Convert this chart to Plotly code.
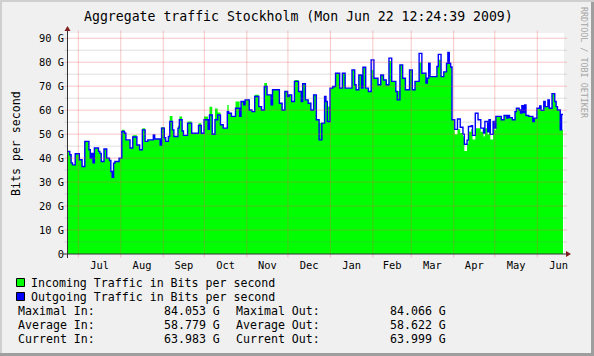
import pandas as pd
import plotly.graph_objects as go

# ---------------- data (values in Gbit/s) ----------------
start = pd.Timestamp("2008-06-22 18:00")
days = [0, 2, 3, 4, 6, 9, 11, 13, 16, 17, 18, 19, 20, 23, 24, 25, 27, 29, 31, 32, 33, 34, 35, 38,
        40, 42, 43, 46, 48, 51, 53, 55, 57, 59, 63, 64, 68, 69, 71, 72, 74, 75, 77, 78, 81, 82,
        84, 85, 88, 91, 96, 98, 100, 103, 104, 106, 108, 110, 112, 114, 117, 118, 120, 123,
        126, 127, 129, 130, 133, 135, 137, 140, 142, 144, 146, 149, 150, 155, 157, 159, 161,
        162, 164, 166, 169, 171, 172, 174, 176, 178, 180, 182, 184, 186, 188, 189, 190, 192,
        194, 196, 199, 201, 203, 208, 210, 211, 213, 215, 216, 218, 220, 222, 224, 227, 229,
        231, 233, 235, 237, 240, 241, 243, 245, 247, 250, 252, 254, 257, 259, 262, 263, 264,
        265, 270, 271, 273, 275, 277, 278, 279, 280, 281, 283, 285, 287, 289, 290, 292, 293,
        295, 296, 298, 300, 302, 304, 305, 307, 308, 309, 311, 312, 313, 317, 319, 321, 322,
        323, 325, 327, 328, 330, 331, 332, 333, 334, 335, 337, 340, 341, 343, 345, 346, 348,
        349, 351, 352, 354, 356, 357, 358, 360, 361, 362]

out_vals = [42.8, 41.4, 38, 37.2, 41.8, 39.3, 36.5, 47, 43.5, 40, 42, 38, 44.2, 42.8, 42, 38.6, 43.8,
            40, 39, 34.4, 32, 37.9, 38.6, 40,
            51.1, 50.4, 47.6, 44.2, 48.8, 45.5, 43.5, 51.8, 47, 47.6, 49.7, 48, 45.5, 52.5, 48.5,
            47, 49, 55.3, 51.8, 49, 52.5, 56,
            51.3, 49.5, 54.6, 50.4, 53.6, 50.4, 56, 52, 58, 49.9, 56, 58, 53.9, 52.5, 59.4, 58.7,
            57.4, 60.8,
            57.4, 63.6, 62.2, 64.3, 60.1, 59.4, 65.7, 61.5, 60.1, 69.9, 66.4, 62.2, 68.5, 62.9,
            60.1, 67.8, 65.7,
            66.4, 63.6, 72, 67.8, 63.6, 71, 64.3, 62.9, 60.1, 66.4, 56, 47.6, 54.6, 65.7, 63.6,
            55.3, 69.2,
            69.9, 75.4, 69.2, 75.4, 69.2, 76.8, 70.6, 68.5, 74.7, 69.2, 77.9, 69.2, 67.8, 81,
            73.3, 70.6, 74.7,
            72.6, 70.6, 81.7, 72, 67.8, 64.3, 78.9, 73.3, 68.5, 76.8, 68.5, 72, 83.7, 75.4, 71.3,
            73.3, 79.6,
            74, 78.2, 83.3, 74, 76, 79.6, 84.1, 79.6, 78, 56, 52, 56.3, 52.9, 50, 45.8, 47.5,
            53.2,
            53.5, 49.5, 58.7, 56, 52.5, 50.5, 55.3, 51, 56, 49.9, 55.3, 52.5, 57.4, 56, 57.8,
            56.7, 57.8,
            56.9, 56, 59.4, 60.8, 60.1, 58.8, 61.9, 59, 62.2, 57.8, 57.4, 55.3, 56.7, 60.8, 61.8,
            59.9, 63.6,
            61.5, 64.3, 60.8, 66.9, 63.6, 61.5, 60.1, 51.8, 58.2, 58.2]

in_vals = [42.8, 41.4, 38, 37.2, 41.8, 39.3, 36.5, 47, 43.5, 40, 42, 38, 44.2, 42.8, 42, 38.6, 43.8,
           40, 39, 34.4, 32, 37.9, 38.6, 40,
           51.8, 50.4, 47.6, 44.2, 49.5, 45.5, 43.5, 52.5, 47, 47.6, 49.7, 48, 45.5, 53, 48.5,
           47, 49, 57.6, 51.8, 49, 53.5, 57.4,
           51.3, 49.5, 55.3, 50.4, 54.5, 50.4, 57.4, 52, 61.4, 50.5, 60.7, 59, 53.9, 52.5, 62.2,
           58.7, 57.4, 63.6,
           57.4, 63.6, 62.2, 64.3, 60.1, 59.4, 66.4, 61.5, 60.1, 71.3, 66.4, 62.2, 68.5, 62.9,
           60.1, 67.8, 65.7,
           66.4, 63.6, 72.6, 67.8, 63.6, 71, 64.3, 62.9, 60.1, 66.4, 56, 54.6, 54.6, 65.7, 63.6,
           61.5, 69.2,
           69.9, 75.4, 69.2, 75.4, 69.2, 76.8, 70.6, 68.5, 74.7, 69.2, 77.9, 69.2, 67.8, 76.8,
           73.3, 70.6, 74.7,
           72.6, 70.6, 80.5, 72, 67.8, 68, 78.9, 73.3, 68.5, 76.8, 68.5, 72, 80, 75.4, 71.3,
           73.3, 79.6,
           74, 78.2, 81, 74, 76, 79.6, 84.0, 79.6, 78, 56, 50, 52, 50.5, 49, 43, 46, 51,
           52, 47.8, 52.5, 52.5, 51, 49, 52.5, 50, 54.5, 47.8, 53, 51.8, 57.4, 56, 57.8,
           56.7, 57.8,
           56.9, 56, 59.4, 60.8, 60.1, 58.8, 61.9, 59, 62.2, 57.8, 57.4, 55.3, 56.7, 60.8, 61.8,
           59.9, 63.6,
           61.5, 64.3, 60.8, 66.9, 63.6, 61.5, 60.1, 51.8, 51.8, 51.8]

y_tick_vals = [0, 10, 20, 30, 40, 50, 60, 70, 80, 90]
y_tick_text = ["0", "10 G", "20 G", "30 G", "40 G", "50 G", "60 G", "70 G", "80 G", "90 G"]
y_minor_vals = [5, 15, 25, 35, 45, 55, 65, 75, 85]

title_text = "Aggregate traffic Stockholm (Mon Jun 22 12:24:39 2009)"
y_title = "Bits per second"
legend_labels = ["Incoming Traffic in Bits per second", "Outgoing Traffic in Bits per second"]
stat_labels_in = ["Maximal In:", "Average In:", "Current In:"]
stat_vals_in = ["84.053 G", "58.779 G", "63.983 G"]
stat_labels_out = ["Maximal Out:", "Average Out:", "Current Out:"]
stat_vals_out = ["84.066 G", "58.622 G", "63.999 G"]
credit = "RRDTOOL / TOBI OETIKER"

# ---------------- layout geometry ----------------
W, H = 594, 356
L, R, T, B = 67, 30, 33, 102
PW = W - L - R
PH = H - T - B


def px(x):
    return (x - L) / PW


def py(y):
    return (H - B - y) / PH


dates = [start + pd.Timedelta(days=d) for d in days]
x_end = start + pd.Timedelta(days=PW / 1.3701)

MONO = "DejaVu Sans Mono"
GREEN = "#00FF00"
BLUE = "#0000FF"
MAJOR = "rgba(230,80,80,0.32)"
MINOR = "rgba(130,130,130,0.25)"

fig = go.Figure()
fig.add_trace(go.Scatter(x=dates, y=in_vals, mode="lines", line=dict(width=0, shape="hv", color=GREEN),
                         fill="tozeroy", fillcolor=GREEN, hoverinfo="skip", showlegend=False))
fig.add_trace(go.Scatter(x=dates, y=out_vals, mode="lines", line=dict(width=1.4, shape="hv", color=BLUE),
                         hoverinfo="skip", showlegend=False))

shapes = []
# frame
shapes.append(dict(type="rect", xref="paper", yref="paper", x0=px(0), x1=px(W), y0=py(0), y1=py(2),
                   fillcolor="#CFCFCF", line=dict(width=0), layer="below"))
shapes.append(dict(type="rect", xref="paper", yref="paper", x0=px(0), x1=px(2), y0=py(0), y1=py(H),
                   fillcolor="#CFCFCF", line=dict(width=0), layer="below"))
shapes.append(dict(type="rect", xref="paper", yref="paper", x0=px(0), x1=px(W), y0=py(353), y1=py(H),
                   fillcolor="#9E9E9E", line=dict(width=0), layer="below"))
shapes.append(dict(type="rect", xref="paper", yref="paper", x0=px(591), x1=px(W), y0=py(2), y1=py(H),
                   fillcolor="#9E9E9E", line=dict(width=0), layer="below"))

# grid drawn over data (as rrdtool does)
for v in y_minor_vals:
    shapes.append(dict(type="line", xref="paper", yref="y", x0=px(64.5), x1=px(567), y0=v, y1=v,
                       line=dict(color=MINOR, width=1), layer="above"))
for v in y_tick_vals[1:]:
    shapes.append(dict(type="line", xref="paper", yref="y", x0=px(64.5), x1=px(567), y0=v, y1=v,
                       line=dict(color=MAJOR, width=1), layer="above"))
for m in pd.date_range("2008-07-01", "2009-06-01", freq="MS"):
    shapes.append(dict(type="line", xref="x", yref="paper", x0=m, x1=m, y0=py(257.5), y1=py(30.5),
                       line=dict(color=MAJOR, width=1), layer="above"))

# axes lines + arrows
AX = "#333333"
ARROW = "#801F1F"
shapes.append(dict(type="line", xref="paper", yref="paper", x0=px(63), x1=px(567), y0=py(254), y1=py(254),
                   line=dict(color=AX, width=1), layer="above"))
shapes.append(dict(type="line", xref="paper", yref="paper", x0=px(67.5), x1=px(67.5), y0=py(258), y1=py(30),
                   line=dict(color=AX, width=1), layer="above"))
shapes.append(dict(type="path", xref="paper", yref="paper",
                   path=f"M {px(64.5)} {py(31)} L {px(70.5)} {py(31)} L {px(67.5)} {py(26)} Z",
                   fillcolor=ARROW, line=dict(width=0), layer="above"))
shapes.append(dict(type="path", xref="paper", yref="paper",
                   path=f"M {px(566)} {py(251)} L {px(566)} {py(257)} L {px(571)} {py(254)} Z",
                   fillcolor=ARROW, line=dict(width=0), layer="above"))

# legend squares
for i, col in enumerate([GREEN, BLUE]):
    y0 = 278.5 + i * 14
    shapes.append(dict(type="rect", xref="paper", yref="paper", x0=px(16.5), x1=px(24.5), y0=py(y0 + 8),
                       y1=py(y0), fillcolor=col, line=dict(color="black", width=1), layer="above"))

annotations = []


def text(s, x, y, size, anchor="left", color="black", angle=0):
    annotations.append(dict(text=s, xref="paper", yref="paper", x=px(x), y=py(y), xanchor=anchor,
                            yanchor="middle", showarrow=False, textangle=angle,
                            font=dict(family=MONO, size=size, color=color)))


text(title_text, 298, 16, 13.2, anchor="center")
text(y_title, 15.5, 143.5, 11.6, anchor="center", angle=-90)
text(credit, 583.5, 62.5, 8.4, anchor="center", color="#A6A6A6", angle=90)
for i, lab in enumerate(legend_labels):
    text(lab, 29, 282.5 + i * 14, 11.6)
for i in range(3):
    yy = 310.5 + i * 14
    text(stat_labels_in[i], 15.5, yy, 11.6)
    text(stat_vals_in[i], 162, yy, 11.6)
    text(stat_labels_out[i], 234, yy, 11.6)
    text(stat_vals_out[i], 388, yy, 11.6)

fig.update_layout(
    width=W, height=H,
    margin=dict(l=L, r=R, t=T, b=B, pad=0),
    paper_bgcolor="#F0F0F0", plot_bgcolor="#FFFFFF",
    showlegend=False,
    shapes=shapes, annotations=annotations,
    xaxis=dict(type="date", range=[start, x_end], showgrid=False, zeroline=False, showline=False,
               ticks="", tick0="2008-07-01", dtick="M1", tickformat="%b", ticklabelmode="period",
               ticklabelstandoff=4,
               tickfont=dict(family=MONO, size=10.4, color="black"), fixedrange=True),
    yaxis=dict(range=[0, PH / 2.397], showgrid=False, zeroline=False, showline=False, ticks="",
               tickmode="array", tickvals=y_tick_vals, ticktext=y_tick_text, ticklabelstandoff=2,
               tickfont=dict(family=MONO, size=10.4, color="black"), fixedrange=True),
)

fig.write_html("out.html", config={"displayModeBar": False, "staticPlot": True},
               post_script="document.body.style.margin='0';document.body.style.padding='0';"
                           "document.body.style.overflow='hidden';")
